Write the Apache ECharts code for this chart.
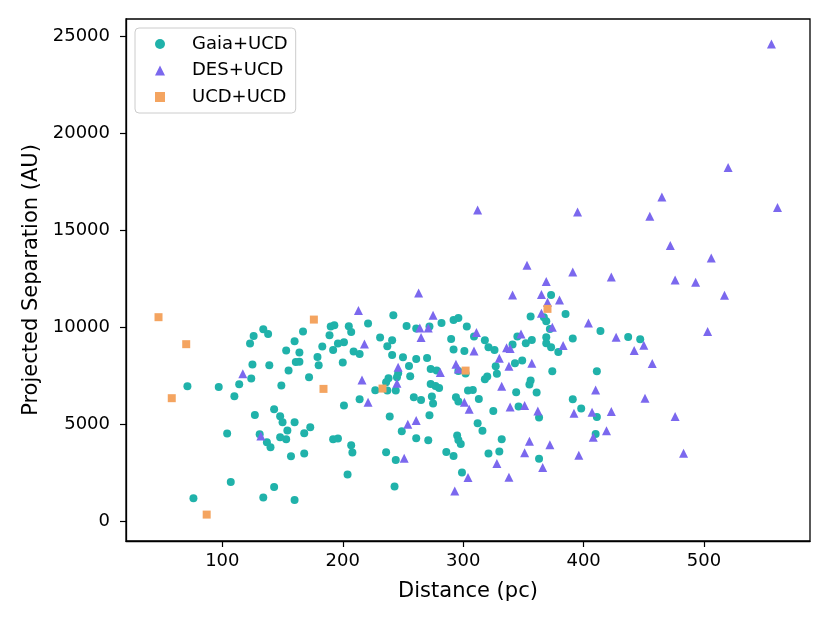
<!DOCTYPE html>
<html>
<head>
<meta charset="utf-8">
<script src="https://cdn.jsdelivr.net/npm/echarts@6/dist/echarts.min.js"></script>
<style>
  html, body { margin: 0; padding: 0; background: #fff; }
  #chart { width: 830px; height: 623px; }
</style>
</head>
<body>
<div id="chart"></div>
<script>
// [distance (pc), projected separation (AU)]
var gaiaPoints = [
  [134,9907],[138,9665],[126,9562],[123,9166],[167,9784],[160,9289],[153,8805],[164,8702],[161,8223],[164,8230],
  [125,8085],[139,8053],[155,7775],[124,7364],[114,7075],[149,7003],[71,6972],[97,6936],[110,6457],[143,5788],
  [127,5494],[148,5427],[150,5118],[160,5118],[154,4686],[168,4552],[104,4531],[131,4500],[148,4346],[153,4243],
  [137,4089],[140,3831],[157,3368],[168,3502],[107,2044],[143,1787],[76,1205],[134,1236],[160,1117],
  [242,10628],[190,10041],[193,10113],[205,10062],[207,9768],[221,10196],[189,9598],[253,10077],[282,10232],[292,10386],
  [296,10489],[303,10041],[261,9938],[272,10041],[231,9475],[241,9341],[237,9032],[201,9238],[196,9166],[183,9011],
  [192,8841],[209,8754],[214,8635],[290,9408],[292,8857],[301,8790],[241,8584],[250,8465],[261,8378],[270,8429],
  [179,8481],[180,8053],[200,8187],[255,8017],[273,7863],[278,7775],[246,7642],[245,7436],[256,7487],[296,7760],
  [302,7621],[172,7436],[238,7384],[236,7178],[273,7091],[277,6987],[280,6885],[227,6766],[237,6746],[244,6746],
  [304,6746],[308,6782],[214,6303],[259,6406],[265,6267],[274,6437],[275,6076],[294,6406],[296,6179],[313,6318],
  [201,5973],[239,5407],[272,5479],[312,5067],[173,4861],[249,4655],[192,4243],[196,4274],[207,3934],[208,3553],
  [261,4294],[271,4192],[295,4428],[296,4207],[298,4001],[236,3574],[244,3177],[286,3589],[292,3383],[204,2420],
  [299,2523],[243,1802],
  [373,11674],[356,10556],[367,10525],[369,10319],[385,10695],[372,9923],[414,9820],[437,9511],[447,9392],[391,9423],
  [369,9495],[369,9186],[373,8980],[379,8738],[345,9527],[352,9186],[357,9356],[341,9114],[318,9341],[321,8980],
  [326,8841],[309,9527],[343,8156],[349,8290],[327,8003],[328,7606],[320,7467],[318,7333],[374,7745],[411,7745],
  [356,7261],[355,7055],[344,6663],[361,6643],[325,5700],[346,5922],[363,5355],[391,6303],[398,5819],[411,5391],
  [410,4516],[316,4671],[332,4243],[321,3502],[330,3605],[363,3229]
];

var desPoints = [
  [117,7606],[132,4413],
  [213,10865],[275,10628],[264,9974],[271,9974],[265,9475],[311,9732],[218,9150],[309,8790],[246,7950],[294,8105],
  [281,7672],[296,7863],[216,7297],[245,7127],[221,6148],[301,6148],[305,5788],[254,5015],[261,5201],[251,3265],
  [304,2266],[293,1580],
  [369,12358],[423,12600],[341,11674],[365,11690],[380,11416],[370,11297],[365,10731],[374,10010],[404,10232],[427,9495],
  [442,8805],[450,9083],[457,8136],[348,9665],[336,8945],[339,8909],[330,8414],[338,8003],[357,8156],[383,9063],
  [332,6972],[410,6782],[451,6354],[339,5906],[351,5973],[362,5700],[392,5582],[407,5633],[423,5664],[355,4140],
  [372,3950],[419,4671],[408,4346],[351,3538],[328,2987],[366,2781],[338,2286],[396,3419],
  [556,24598],[520,18229],[465,16720],[561,16169],[455,15726],[472,14212],[506,13579],[476,12446],[493,12328],[517,11658],
  [503,9784],[476,5407],[483,3522],
  [312,16051],[395,15947],[353,13203],[391,12858],[263,11777]
];

var ucdPoints = [
  [47,10525],[70,9135],[58,6354],[87,360],[176,10402],[184,6833],[233,6849],[302,7775],[370,10953]
];

var distTicks = [100, 200, 300, 400, 500];
var sepTicks = [0, 5000, 10000, 15000, 20000, 25000];

var font = 'DejaVu Sans';
var chart = echarts.init(document.getElementById('chart'));

chart.setOption({
  backgroundColor: '#fff',
  animation: false,
  textStyle: { fontFamily: font },
  grid: {
    left: 126, top: 19, right: 20, bottom: 82,
    show: true, borderColor: '#000', borderWidth: 1.3, backgroundColor: 'transparent'
  },
  legend: {
    orient: 'vertical',
    left: 135, top: 28,
    padding: [6, 8, 6, 20],
    itemWidth: 10, itemHeight: 10,
    itemGap: 6.5,
    backgroundColor: 'rgba(255,255,255,0.8)',
    borderColor: '#cccccc', borderWidth: 1, borderRadius: 4,
    textStyle: { fontFamily: font, fontSize: 18, color: '#000', lineHeight: 20, padding: [0, 0, 0, 22] },
    data: ['Gaia+UCD', 'DES+UCD', 'UCD+UCD']
  },
  xAxis: {
    type: 'value',
    min: 20, max: 588,
    name: 'Distance (pc)',
    nameLocation: 'middle',
    nameGap: 40,
    nameTextStyle: { fontFamily: font, fontSize: 21, color: '#000' },
    axisLine: { show: true, onZero: false, lineStyle: { color: '#000', width: 1.3 } },
    axisTick: { show: true, length: 6, lineStyle: { color: '#000', width: 1.2 }, customValues: distTicks },
    axisLabel: { fontFamily: font, fontSize: 18, color: '#000', margin: 11, customValues: distTicks,
      formatter: function (v) { return String(v); } },
    splitLine: { show: false }
  },
  yAxis: {
    type: 'value',
    min: -1000, max: 25880,
    name: 'Projected Separation (AU)',
    nameLocation: 'middle',
    nameGap: 78,
    nameTextStyle: { fontFamily: font, fontSize: 21, color: '#000' },
    axisLine: { show: true, onZero: false, lineStyle: { color: '#000', width: 1.3 } },
    axisTick: { show: true, length: 6, lineStyle: { color: '#000', width: 1.2 }, customValues: sepTicks },
    axisLabel: { fontFamily: font, fontSize: 18, color: '#000', margin: 16, customValues: sepTicks,
      formatter: function (v) { return String(v); } },
    splitLine: { show: false }
  },
  series: [
    {
      name: 'Gaia+UCD', type: 'scatter', symbol: 'circle', symbolSize: 8,
      itemStyle: { color: '#20b2aa', opacity: 1 },
      data: gaiaPoints
    },
    {
      name: 'DES+UCD', type: 'scatter', symbol: 'triangle', symbolSize: 9,
      itemStyle: { color: '#7b68ee', opacity: 1 },
      data: desPoints
    },
    {
      name: 'UCD+UCD', type: 'scatter', symbol: 'rect', symbolSize: 8,
      itemStyle: { color: '#f4a460', opacity: 1 },
      data: ucdPoints
    }
  ]
});
</script>
</body>
</html>
